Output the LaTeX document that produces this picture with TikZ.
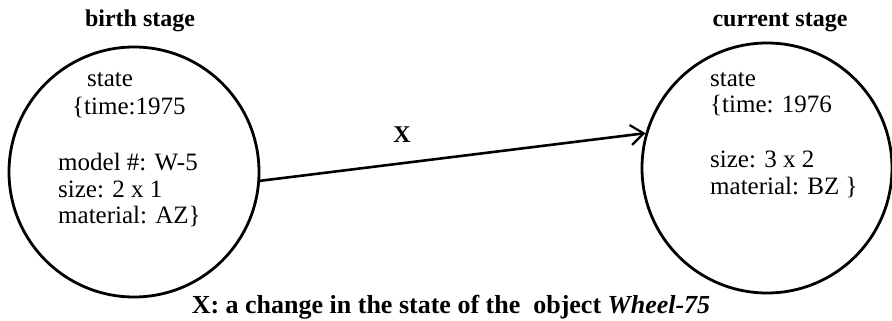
\documentclass[tikz,border=0pt]{standalone}
\usepackage{fontspec}
\setmainfont{Liberation Serif}
\usetikzlibrary{arrows.meta}
\begin{document}
\begin{tikzpicture}[x=1pt,y=-1pt,
  stage/.style={circle,draw,line width=2.8pt,minimum size=250pt,inner sep=0pt},
  txt/.style={anchor=base west,inner sep=0pt,font=\fontsize{25}{27}\selectfont},
  head/.style={anchor=base,inner sep=0pt,font=\fontsize{24}{27}\selectfont\bfseries},
  conn/.style={line width=2.6pt,-{Straight Barb[length=13pt,width=20pt,line width=2.2pt]}}]
\useasboundingbox (0,0) rectangle (892,321);
\node[stage] (L) at (134,172) {};
\node[stage] (R) at (767,168) {};
\node[head] (hl) at (140,27) {birth stage};
\node[head] (hr) at (780,27) {current stage};
\node[txt] (l1) at (87,87) {state};
\node[txt] (l2) at (72,114) {\{time:1975};
\node[txt] (l3) at (58,170) {model \#: W-5};
\node[txt] (l4) at (58,197) {size: 2 x 1};
\node[txt] (l5) at (58,223) {material: AZ\}};
\node[txt] (r1) at (710,86) {state};
\node[txt] (r2) at (710,113) {\{time: 1976};
\node[txt] (r3) at (710,167) {size: 3 x 2};
\node[txt] (r4) at (710,194) {material: BZ \}};
\draw[conn] (L.-4.5) -- (R.164.5);
\node[head] (x) at (402,142) {X};
\node[head,font=\fontsize{26}{28}\selectfont\bfseries] (cap) at (451,313) {X: a change in the state of the\ \ object \textit{Wheel-75}};
\end{tikzpicture}
\end{document}
